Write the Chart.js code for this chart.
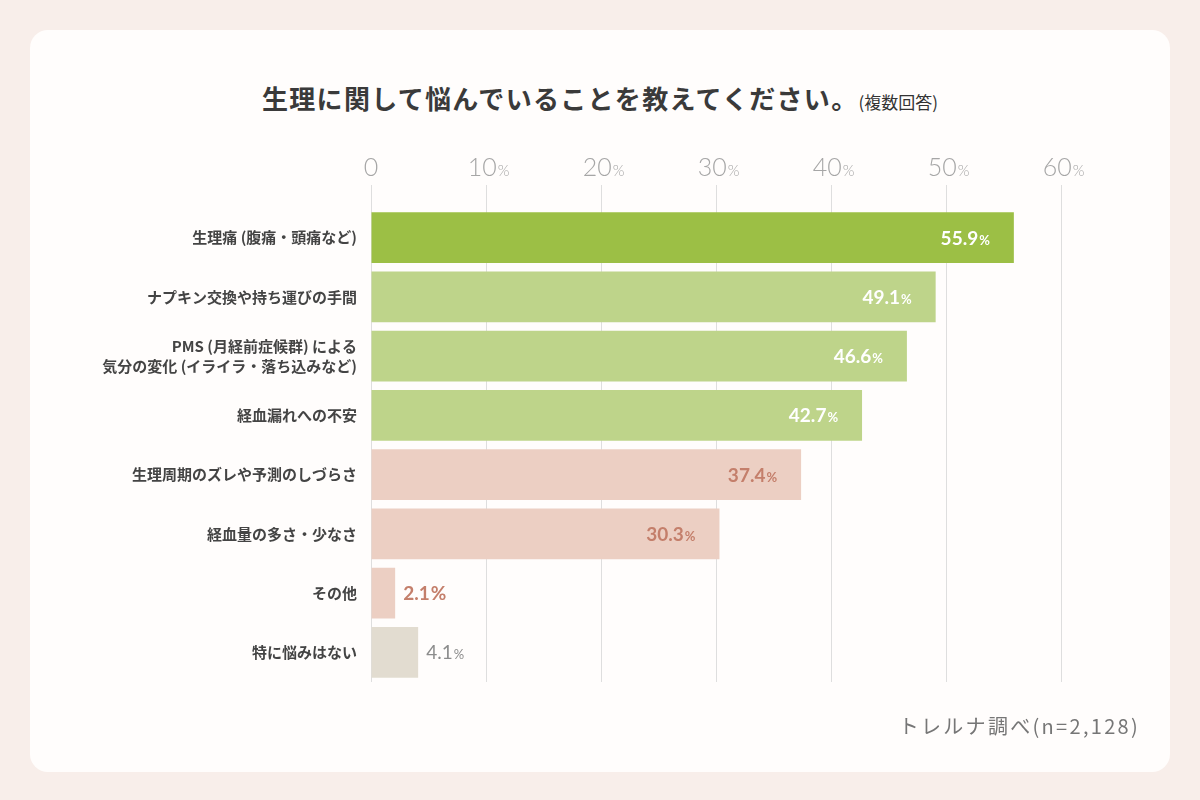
<!DOCTYPE html>
<html lang="ja">
<head>
<meta charset="UTF-8">
<title>生理に関して悩んでいること</title>
<style>
  body {
    margin: 0;
    width: 1200px;
    height: 800px;
    background-color: #f8eeea;
    font-family: "Noto Sans CJK JP", sans-serif;
    overflow: hidden;
  }
  .card {
    position: absolute;
    left: 30px;
    top: 30px;
    width: 1140px;
    height: 742px;
    background-color: #fffdfc;
    border-radius: 18px;
  }
  .title {
    position: absolute;
    left: 0;
    top: 79px;
    width: 1200px;
    text-align: center;
    color: #3a3a3a;
    font-weight: bold;
  }
  .title .main {
    font-size: 26px;
    letter-spacing: 1.3px;
  }
  .title .sub {
    font-size: 17px;
    font-weight: normal;
    color: #333;
  }
  .source {
    position: absolute;
    right: 60px;
    top: 711px;
    font-size: 20px;
    color: #767676;
    letter-spacing: 2.3px;
  }
  #chart {
    position: absolute;
    left: 0;
    top: 0;
  }
</style>
<script src="https://cdn.jsdelivr.net/npm/chart.js"></script>
</head>
<body>
  <div class="card"></div>
  <div class="title"><span class="main">生理に関して悩んでいることを教えてください。</span><span class="sub">(複数回答)</span></div>
  <canvas id="chart" width="1200" height="800"></canvas>
  <div class="source">トレルナ調べ(n=2,128)</div>

  <script>
    const categories = [
      '生理痛 (腹痛・頭痛など)',
      'ナプキン交換や持ち運びの手間',
      ['PMS (月経前症候群) による', '気分の変化 (イライラ・落ち込みなど)'],
      '経血漏れへの不安',
      '生理周期のズレや予測のしづらさ',
      '経血量の多さ・少なさ',
      'その他',
      '特に悩みはない'
    ];
    const values = [55.9, 49.1, 46.6, 42.7, 37.4, 30.3, 2.1, 4.1];
    const tickValues = [0, 10, 20, 30, 40, 50, 60];

    const barColors = ['#9cbf45', '#bed48a', '#bed48a', '#bed48a', '#eccfc3', '#eccfc3', '#eccfc3', '#e2dcd0'];
    const labelColors = ['#ffffff', '#ffffff', '#ffffff', '#ffffff', '#c47f6b', '#c47f6b', '#c47f6b', '#8c8c8c'];

    // draws text as a big number plus a small "%"
    function drawPct(ctx, num, x, y, bigFont, smallFont, align) {
      ctx.font = bigFont;
      const w1 = ctx.measureText(num).width;
      ctx.font = smallFont;
      const w2 = ctx.measureText('%').width;
      let left = x;
      if (align === 'right') left = x - w1 - w2;
      if (align === 'center') left = x - (w1 + w2) / 2;
      ctx.textAlign = 'left';
      ctx.font = bigFont;
      ctx.fillText(num, left, y);
      ctx.font = smallFont;
      ctx.fillText('%', left + w1 + 1, y);
    }

    const labelPlugin = {
      id: 'labelPlugin',
      afterDraw(chart) {
        const ctx = chart.ctx;
        const xs = chart.scales.x;
        const top = chart.chartArea.top;
        ctx.save();
        ctx.textBaseline = 'alphabetic';

        // x tick labels
        ctx.fillStyle = '#a6a6a6';
        tickValues.forEach(v => {
          const x = xs.getPixelForValue(v);
          if (v === 0) {
            ctx.font = '300 25px Lato, sans-serif';
            ctx.textAlign = 'center';
            ctx.fillText('0', x, top - 32);
          } else {
            drawPct(ctx, String(v), x + 2, top - 32, '300 25px Lato, sans-serif', '300 15px Lato, sans-serif', 'center');
          }
        });

        // value labels
        const meta = chart.getDatasetMeta(0);
        meta.data.forEach((bar, i) => {
          const txt = values[i].toFixed(1);
          const y = bar.y + 7;
          ctx.fillStyle = labelColors[i];
          if (values[i] > 10) {
            drawPct(ctx, txt, bar.x - 25, y, 'bold 19px Lato, sans-serif', 'bold 13px Lato, sans-serif', 'right');
          } else if (i === values.length - 1) {
            drawPct(ctx, txt, bar.x + 8, y, '19px Lato, sans-serif', '13px Lato, sans-serif', 'left');
          } else {
            drawPct(ctx, txt, bar.x + 8, y, 'bold 19px Lato, sans-serif', 'bold 19px Lato, sans-serif', 'left');
          }
        });
        ctx.restore();
      }
    };

    const ctx = document.getElementById('chart').getContext('2d');
    const chart = new Chart(ctx, {
      type: 'bar',
      data: {
        labels: categories,
        datasets: [{
          data: values,
          backgroundColor: barColors,
          borderWidth: 0,
          barPercentage: 0.86,
          categoryPercentage: 1
        }]
      },
      options: {
        indexAxis: 'y',
        responsive: false,
        devicePixelRatio: 1,
        animation: false,
        layout: {
          padding: { left: 0, right: 139, top: 0, bottom: 118 }
        },
        plugins: {
          legend: { display: false },
          tooltip: { enabled: false }
        },
        scales: {
          x: {
            position: 'top',
            min: 0,
            max: 60,
            ticks: {
              stepSize: 10,
              color: 'rgba(0,0,0,0)'
            },
            grid: {
              color: '#dedede',
              lineWidth: 1,
              drawTicks: true,
              tickLength: 23
            },
            border: { display: false },
            afterFit: s => { s.height = 208; }
          },
          y: {
            ticks: {
              color: '#444444',
              padding: 14,
              font: { family: '"Noto Sans CJK JP", sans-serif', size: 15, weight: 'bold', lineHeight: 1.35 }
            },
            grid: { display: false, drawTicks: false },
            border: { display: false },
            afterFit: s => { s.width = 371; }
          }
        }
      },
      plugins: [labelPlugin]
    });
  </script>
</body>
</html>
